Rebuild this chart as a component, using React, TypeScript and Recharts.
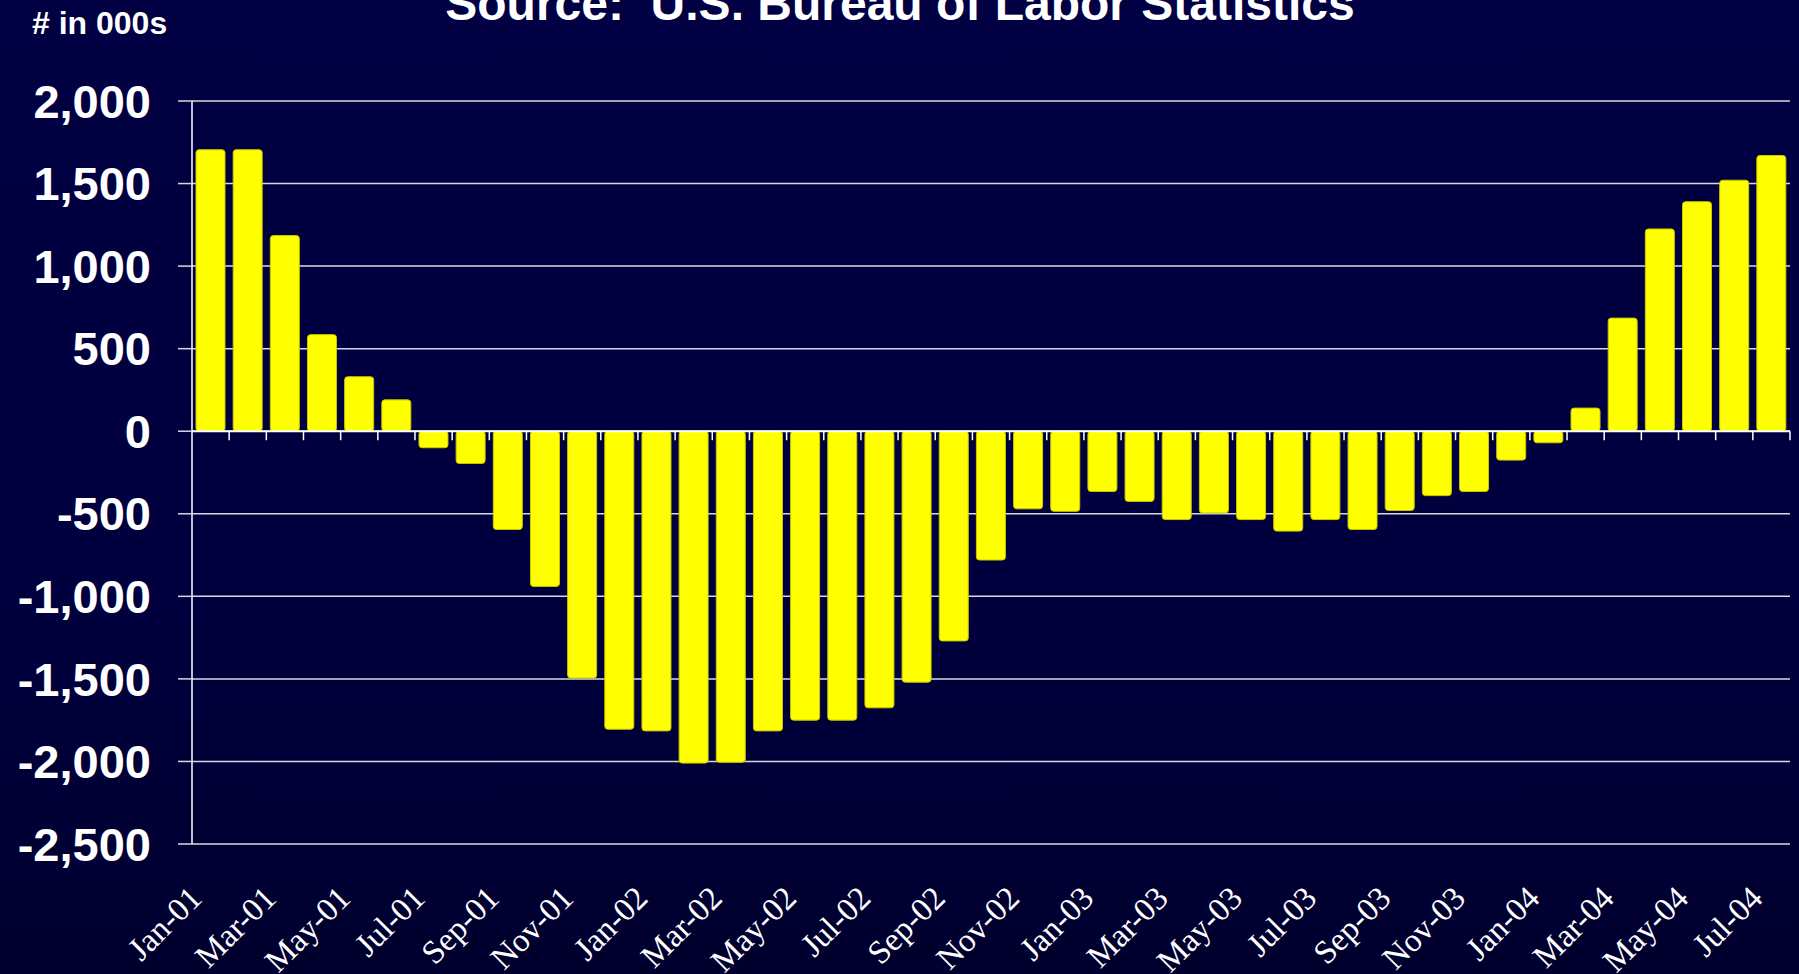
import { BarChart, Bar, XAxis, YAxis, CartesianGrid, ReferenceLine } from "recharts";

// month-over-year change in payroll employment, thousands
const months = [
  "Jan-01", "Feb-01", "Mar-01", "Apr-01", "May-01", "Jun-01", "Jul-01", "Aug-01", "Sep-01", "Oct-01", "Nov-01", "Dec-01",
  "Jan-02", "Feb-02", "Mar-02", "Apr-02", "May-02", "Jun-02", "Jul-02", "Aug-02", "Sep-02", "Oct-02", "Nov-02", "Dec-02",
  "Jan-03", "Feb-03", "Mar-03", "Apr-03", "May-03", "Jun-03", "Jul-03", "Aug-03", "Sep-03", "Oct-03", "Nov-03", "Dec-03",
  "Jan-04", "Feb-04", "Mar-04", "Apr-04", "May-04", "Jun-04", "Jul-04",
];

const changes = [
  1705, 1705, 1185, 585, 330, 190, -100, -195, -595, -940, -1495, -1805,
  -1815, -2010, -2005, -1815, -1750, -1750, -1675, -1520, -1270, -780, -470, -485,
  -365, -425, -535, -495, -535, -605, -535, -595, -480, -390, -365, -175,
  -70, 140, 685, 1225, 1390, 1520, 1670,
];

const yTicks = [2000, 1500, 1000, 500, 0, -500, -1000, -1500, -2000, -2500];

const data = months.map((month, i) => ({ month, change: changes[i] }));

const SANS = "'Liberation Sans', Arial, sans-serif";
const SERIF = "'Liberation Serif', 'Times New Roman', serif";

// zero line with small tick marks at the category boundaries
function ZeroAxis(props: any) {
  const { x1, x2, y1 } = props;
  const step = (x2 - x1) / months.length;
  const marks = [];
  for (let k = 1; k <= months.length; k++) {
    const x = x1 + k * step;
    marks.push(<line key={k} x1={x} x2={x} y1={y1} y2={y1 + 9} stroke="#ffffff" strokeWidth={1.5} />);
  }
  return (
    <g>
      <line x1={x1} x2={x2} y1={y1} y2={y1} stroke="#ffffff" strokeWidth={2} />
      {marks}
    </g>
  );
}

function MonthTick({ x, y, payload }: any) {
  return (
    <text
      transform={`translate(${x - 7},${y + 56}) rotate(-45)`}
      textAnchor="end"
      fill="#ffffff"
      fontFamily={SERIF}
      fontSize={33}
    >
      {payload.value}
    </text>
  );
}

export default function App() {
  return (
    <div
      style={{
        position: "absolute",
        left: 0,
        top: 0,
        width: 1799,
        height: 974,
        overflow: "hidden",
        background: "linear-gradient(180deg, #000042 0%, #00003f 60%, #00002e 100%)",
      }}
    >
      <BarChart
        width={1799}
        height={974}
        data={data}
        margin={{ top: 101, right: 9, bottom: 0, left: 0 }}
        barSize={29}
      >
        <CartesianGrid horizontal vertical={false} stroke="#d8d8e0" strokeWidth={1.5} />
        <YAxis
          type="number"
          domain={[-2500, 2000]}
          ticks={yTicks}
          interval={0}
          width={192}
          tickSize={14}
          tickMargin={27}
          tickLine={{ stroke: "#d8d8e0", strokeWidth: 1.5 }}
          axisLine={{ stroke: "#ffffff", strokeWidth: 1.5 }}
          tick={{ fill: "#ffffff", fontSize: 47, fontWeight: 700, fontFamily: SANS }}
          tickFormatter={(v: number) => v.toLocaleString("en-US")}
        />
        <XAxis
          dataKey="month"
          height={130}
          interval={1}
          tickSize={0}
          tickMargin={0}
          axisLine={false}
          tickLine={false}
          tick={<MonthTick />}
        />
        <Bar
          dataKey="change"
          fill="#ffff00"
          stroke="#c8c800"
          strokeWidth={1}
          radius={3}
          isAnimationActive={false}
        />
        <ReferenceLine y={0} shape={<ZeroAxis />} />
      </BarChart>
      <svg
        width={1799}
        height={974}
        style={{ position: "absolute", left: 0, top: 0, pointerEvents: "none" }}
      >
        <text
          x={900}
          y={20}
          textAnchor="middle"
          fill="#ffffff"
          fontFamily={SANS}
          fontWeight={700}
          fontSize={48}
          style={{ whiteSpace: "pre" }}
        >
          {"Source:  U.S. Bureau of Labor Statistics"}
        </text>
        <text x={32} y={34} fill="#ffffff" fontFamily={SANS} fontWeight={700} fontSize={32}>
          # in 000s
        </text>
      </svg>
    </div>
  );
}
